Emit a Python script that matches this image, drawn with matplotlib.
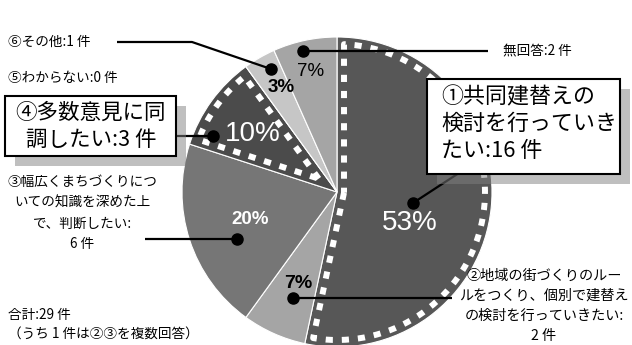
import numpy as np
import matplotlib
matplotlib.use("Agg")
import matplotlib.pyplot as plt
from matplotlib.patches import Rectangle

# ---------------- data ----------------
categories = ["①共同建替えの検討を行っていきたい",
              "②地域の街づくりのルールをつくり、個別で建替えの検討を行っていきたい",
              "③幅広くまちづくりについての知識を深めた上で、判断したい",
              "④多数意見に同調したい",
              "⑤わからない",
              "⑥その他",
              "無回答"]
counts = [16, 2, 6, 3, 0, 1, 2]
colors = ["#575757", "#a5a5a5", "#767676", "#4b4b4b", "#8a8a8a", "#c6c6c6", "#a5a5a5"]
highlight = [True, False, False, True, False, False, False]

box1_lines = ["①共同建替えの", "検討を行っていき", "たい:16 件"]
box4_lines = ["④多数意見に同", "調したい:3 件"]
label3_lines = ["③幅広くまちづくりにつ", "いての知識を深めた上", "で、判断したい:", "6 件"]
label2_lines = ["②地域の街づくりのルー", "ルをつくり、個別で建替え", "の検討を行っていきたい:", "2 件"]
label6 = "⑥その他:1 件"
label5 = "⑤わからない:0 件"
label_na = "無回答:2 件"
total_lines = ["合計:29 件", "（うち 1 件は②③を複数回答）"]

# ---------------- layout ----------------
W, H = 632, 345
JP = ["Noto Sans CJK JP", "DejaVu Sans"]
NUM = ["Liberation Sans", "DejaVu Sans"]

fig = plt.figure(figsize=(W / 100, H / 100), dpi=100)
ax = fig.add_axes([0, 0, 1, 1])


def Y(y):
    return H - y


CX, CY, R = 337, Y(192), 155
wedges, _ = ax.pie(counts, colors=colors, startangle=90, counterclock=False,
                   center=(CX, CY), radius=R,
                   wedgeprops=dict(edgecolor="white", linewidth=0.8))
ax.set_xlim(0, W)
ax.set_ylim(0, H)
ax.set_aspect("auto")
ax.axis("off")


def inset_outline(w, d):
    t1, t2 = np.radians(w.theta1), np.radians(w.theta2)
    cx, cy = w.center
    r = w.r
    span = t2 - t1
    mid = (t1 + t2) / 2
    cd = d / np.sin(span / 2)
    corner = (cx + cd * np.cos(mid), cy + cd * np.sin(mid))
    rr = r - d
    da = np.arcsin(d / rr)
    arc = np.linspace(t1 + da, t2 - da, 300)
    xs = [corner[0]] + list(cx + rr * np.cos(arc)) + [corner[0]]
    ys = [corner[1]] + list(cy + rr * np.sin(arc)) + [corner[1]]
    return xs, ys


for w, h in zip(wedges, highlight):
    if h:
        xs, ys = inset_outline(w, 7)
        ax.plot(xs, ys, color="white", lw=4.3, linestyle=(0, (1.2, 1.5)),
                dash_capstyle="butt", zorder=3)

# percentage labels
total = sum(counts)
pct_pos = [(410, 223), (298, 283), (250, 219), (253, 134), None, (281, 87), (311, 72)]
pct_style = [dict(color="white", fontsize=20, fontweight="normal"),
             dict(color="black", fontsize=14, fontweight="bold"),
             dict(color="white", fontsize=13.5, fontweight="bold"),
             dict(color="white", fontsize=20, fontweight="normal"),
             None,
             dict(color="black", fontsize=13.5, fontweight="bold"),
             dict(color="black", fontsize=13.5, fontweight="normal")]
for c, pos, st in zip(counts, pct_pos, pct_style):
    if pos is None or c == 0:
        continue
    ax.text(pos[0], Y(pos[1]), f"{round(c / total * 100)}%", ha="center", va="center",
            family=NUM, zorder=5, **st)

# leader lines
LW = 1.6
MS = 8
leaders = [
    ([413, 462], [203, 171]),            # ①
    ([293, 452], [298, 298]),            # ②
    ([237, 145], [239, 239]),            # ③
    ([213, 176], [136, 136]),            # ④
    ([271, 192, 117], [69, 42, 42]),     # ⑥
    ([303, 488], [51, 51]),              # 無回答
]
for xs, ys in leaders:
    ax.plot(xs, [Y(v) for v in ys], color="black", lw=LW, zorder=6, solid_capstyle="butt")
    ax.plot(xs[0], Y(ys[0]), "o", color="black", ms=MS, zorder=6)


def box(x0, y0, x1, y1, off=10):
    ax.add_patch(Rectangle((x0 + off, Y(y1 + off)), x1 - x0, y1 - y0,
                           facecolor="#808080", alpha=0.5, edgecolor="none", zorder=7))
    ax.add_patch(Rectangle((x0, Y(y1)), x1 - x0, y1 - y0,
                           facecolor="white", edgecolor="black", lw=1.5, zorder=8))


box(427, 79, 620, 174)
for i, t in enumerate(box1_lines):
    ax.text(441, Y(97 + 27 * i), t, ha="left", va="center", fontsize=15.8,
            family=JP, zorder=9)

box(5, 96, 176, 156)
for i, t in enumerate(box4_lines):
    ax.text(91, Y(113 + 27 * i), t, ha="center", va="center", fontsize=15.5,
            family=JP, zorder=9)

SMALL = 9.8
for i, t in enumerate(label3_lines):
    ax.text(82, Y(182 + 20.7 * i), t, ha="center", va="center", fontsize=SMALL,
            family=JP, zorder=9)
for i, t in enumerate(label2_lines):
    ax.text(544, Y(276 + 20 * i), t, ha="center", va="center", fontsize=10.2,
            family=JP, zorder=9)

ax.text(8, Y(42), label6, ha="left", va="center", fontsize=SMALL, family=JP)
ax.text(8, Y(78), label5, ha="left", va="center", fontsize=SMALL, family=JP)
ax.text(503, Y(51), label_na, ha="left", va="center", fontsize=SMALL, family=JP)
for i, t in enumerate(total_lines):
    ax.text(8, Y(315 + 18.5 * i), t, ha="left", va="center", fontsize=SMALL, family=JP)

fig.savefig("out.png", dpi=100)
